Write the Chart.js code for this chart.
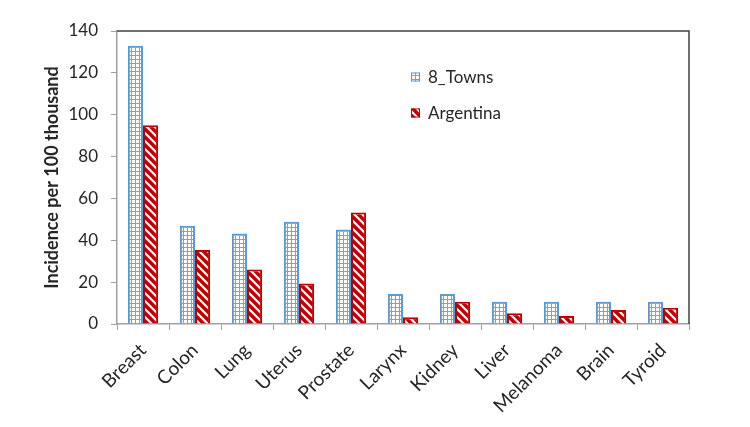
<!DOCTYPE html>
<html>
<head>
<meta charset="utf-8">
<script src="https://cdn.jsdelivr.net/npm/chart.js@4.4.1/dist/chart.umd.min.js"></script>
<style>
  html, body { margin: 0; padding: 0; background: #ffffff; }
  #wrap { width: 750px; height: 427px; }
</style>
</head>
<body>
<div id="wrap"><canvas id="c" width="750" height="427"></canvas></div>
<script>
const categories = ['Breast', 'Colon', 'Lung', 'Uterus', 'Prostate', 'Larynx', 'Kidney', 'Liver', 'Melanoma', 'Brain', 'Tyroid'];
const towns8 = [133, 47, 43.3, 48.8, 45.2, 14.3, 14.3, 10.6, 10.6, 10.6, 10.6];
const argentina = [95, 35.3, 26.1, 19.4, 53.3, 3.2, 10.6, 5.1, 3.8, 6.7, 7.8];
const seriesNames = ['8_Towns', 'Argentina'];
const yTicks = [0, 20, 40, 60, 80, 100, 120, 140];
const yTitle = 'Incidence per 100 thousand';

const BLUE = '#5B9BD5';
const RED = '#C00000';
const TEXT = '#262626';
const AXIS = '#A0A0A0';
const FONT = 'Lato, "Liberation Sans", sans-serif';

function gridPattern() {
  const t = document.createElement('canvas');
  t.width = 4; t.height = 4;
  const g = t.getContext('2d');
  g.fillStyle = '#ffffff'; g.fillRect(0, 0, 4, 4);
  g.fillStyle = '#6FA6DC';
  g.fillRect(3, 0, 1, 4);
  g.fillRect(0, 3, 4, 1);
  return g.createPattern(t, 'repeat');
}
function stripePattern() {
  const s = 8;
  const t = document.createElement('canvas');
  t.width = s; t.height = s;
  const g = t.getContext('2d');
  g.fillStyle = '#ffffff'; g.fillRect(0, 0, s, s);
  g.strokeStyle = RED;
  g.lineWidth = 3.4;
  for (const k of [-s, 0, s]) {
    g.beginPath();
    g.moveTo(k - 1, -1);
    g.lineTo(k + s + 1, s + 1);
    g.stroke();
  }
  return g.createPattern(t, 'repeat');
}

const ctx = document.getElementById('c').getContext('2d');
const pBlue = gridPattern();
const pRed = stripePattern();

const framePlugin = {
  id: 'frame',
  afterDatasetsDraw(chart) {
    const {ctx, chartArea: a} = chart;
    ctx.save();
    ctx.strokeStyle = '#404040';
    ctx.lineWidth = 1.5;
    ctx.beginPath();
    ctx.moveTo(a.left, a.top);
    ctx.lineTo(a.right, a.top);
    ctx.lineTo(a.right, a.bottom);
    ctx.stroke();
    ctx.restore();
  }
};

const legendPlugin = {
  id: 'customLegend',
  afterDraw(chart) {
    const {ctx} = chart;
    const items = chart.data.datasets;
    const x0 = 411, ys = [77, 113];
    ctx.save();
    items.forEach((ds, i) => {
      const y = ys[i];
      ctx.fillStyle = ds.backgroundColor;
      ctx.fillRect(x0, y - 4.5, 9, 9);
      ctx.strokeStyle = ds.borderColor;
      ctx.lineWidth = 1;
      ctx.strokeRect(x0 + 0.5, y - 4, 8, 8);
      ctx.fillStyle = TEXT;
      ctx.font = '17px ' + FONT;
      ctx.textBaseline = 'middle';
      ctx.textAlign = 'left';
      ctx.fillText(ds.label, x0 + 17, y + 1);
    });
    ctx.restore();
  }
};

new Chart(ctx, {
  type: 'bar',
  data: {
    labels: categories,
    datasets: [
      { label: seriesNames[0], data: towns8, backgroundColor: pBlue, borderColor: BLUE, borderWidth: 2 },
      { label: seriesNames[1], data: argentina, backgroundColor: pRed, borderColor: RED, borderWidth: 2 }
    ]
  },
  options: {
    responsive: false,
    animation: false,
    devicePixelRatio: 1,
    layout: { padding: { top: 31, right: 61, left: 0, bottom: 0 } },
    datasets: { bar: { categoryPercentage: 0.58, barPercentage: 1.0 } },
    plugins: { legend: { display: false }, tooltip: { enabled: false } },
    scales: {
      x: {
        grid: { display: true, drawOnChartArea: false, drawTicks: true, tickLength: 6, color: AXIS, offset: true },
        border: { display: true, color: AXIS, width: 1.5 },
        ticks: { color: TEXT, font: { family: FONT, size: 19 }, minRotation: 45, maxRotation: 45, autoSkip: false, padding: 9 },
        afterFit: (s) => { s.height = 103; }
      },
      y: {
        min: 0, max: 140,
        afterBuildTicks: (s) => { s.ticks = yTicks.map(v => ({ value: v })); },
        grid: { display: true, drawOnChartArea: false, drawTicks: true, tickLength: 6, color: AXIS },
        border: { display: true, color: AXIS, width: 1.5 },
        ticks: { color: TEXT, font: { family: FONT, size: 17 }, padding: 13 },
        title: { display: true, text: yTitle, color: TEXT, font: { family: FONT, size: 18, weight: 'bold' }, padding: { top: 41, bottom: 0 } },
        afterFit: (s) => { s.width = 117; }
      }
    }
  },
  plugins: [framePlugin, legendPlugin]
});
</script>
</body>
</html>
